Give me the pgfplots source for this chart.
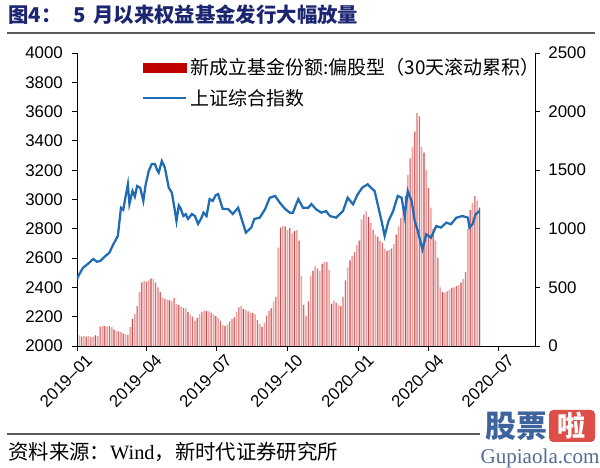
\documentclass[border=0pt]{standalone}
\usepackage{fontspec}
\usepackage{pgfplots}
\usepackage{pgfplotstable}
\pgfplotsset{compat=1.18}
\setmainfont{Liberation Sans}
\newfontfamily\cjk{Noto Sans CJK SC}
\newfontfamily\serif{Liberation Serif}

\definecolor{titleblue}{RGB}{28,38,112}
\definecolor{lineblue}{RGB}{31,108,180}
\definecolor{barpink}{RGB}{236,165,165}
\definecolor{bardark}{RGB}{200,75,75}
\definecolor{legendred}{RGB}{192,0,0}
\definecolor{rulegray}{RGB}{90,90,90}
\definecolor{wmblue}{RGB}{62,100,158}
\definecolor{wmred}{RGB}{222,78,70}

% new equity-fund shares, 30-day rolling sum (day 0 = 2019-01-01)
\pgfplotstableread{
day val
0 210
3 90
6 80
9 85
12 80
15 85
18 75
21 80
24 90
27 85
30 165
33 170
36 170
39 165
42 170
45 160
48 140
51 130
54 125
57 120
60 105
63 100
66 95
69 160
72 230
75 275
78 340
81 460
84 540
87 555
90 550
93 560
96 575
99 570
102 540
105 500
108 460
111 415
114 400
117 395
120 390
123 385
126 410
129 360
132 350
135 335
138 325
141 320
144 290
147 270
150 250
153 215
156 240
159 275
162 290
165 300
168 300
171 295
174 285
177 270
180 255
183 240
186 215
189 180
192 170
195 185
198 210
201 230
204 245
207 290
210 330
213 340
216 315
219 305
222 295
225 285
228 280
231 270
234 220
237 190
240 160
243 200
246 260
249 300
252 320
255 380
258 420
261 840
264 1010
267 1025
270 1020
273 990
276 1005
279 960
282 980
285 990
288 900
291 600
294 350
297 260
300 380
303 600
306 640
309 680
312 660
315 640
318 700
321 720
324 715
327 650
330 360
333 390
336 370
339 350
342 340
345 420
348 560
351 670
354 730
357 770
360 800
363 860
366 900
369 1080
372 1120
375 1150
378 1100
381 1050
384 990
387 950
390 930
393 900
396 880
399 830
402 810
405 820
408 830
411 870
414 950
417 1020
420 1090
423 1180
426 1280
429 1460
432 1600
435 1700
438 1830
441 1990
444 1960
447 1700
450 1650
453 1500
456 1350
459 1180
462 1000
465 900
468 750
471 500
474 460
477 455
480 465
483 480
486 495
489 500
492 510
495 520
498 540
501 570
504 630
507 1000
510 1160
513 1220
516 1280
519 1240
522 1180
}\fundtable

\begin{document}
\begin{tikzpicture}
\path[use as bounding box] (0,0) rectangle (15cm,11.7cm);

\pgfplotsset{
  common/.style={
    at={(1.925cm,3.05cm)}, anchor=south west,
    scale only axis, width=11.45cm, height=7.325cm,
    xmin=0, xmax=594,
    tick align=outside,
    major tick length=0.125cm,
    tick style={black, line width=0.6pt},
    axis line style={black, line width=0.6pt},
    tick label style={font=\fontsize{12}{14}\selectfont},
    /pgf/number format/assume math mode=true,
    /pgf/number format/1000 sep={},
  }
}

% bars on the right axis
\begin{axis}[common,
  axis x line*=bottom, axis y line*=right,
  ymin=0, ymax=2500, ytick={0,500,1000,1500,2000,2500},
  yticklabel style={xshift=2.5pt},
  xtick={0,90,181,273,365,456,547},
  xticklabels={2019–01,2019–04,2019–07,2019–10,2020–01,2020–04,2020–07},
  xticklabel style={rotate=45, anchor=north east, inner sep=0pt, xshift=3pt, yshift=-5pt},
]
\addplot[ybar, bar width=1.15pt, bar shift=0pt, fill=barpink, draw=none] table[x=day, y=val] {\fundtable};
\addplot[ybar, bar width=0.45pt, bar shift=0pt, fill=bardark, draw=none, each nth point=2] table[x=day, y=val] {\fundtable};
\end{axis}

% index line on the left axis
\begin{axis}[common,
  axis x line=none, axis y line*=left,
  ymin=2000, ymax=4000, ytick={2000,2200,...,4000},
  yticklabel style={xshift=-3pt},
  legend style={draw=none, fill=none, at={(0.142,0.995)}, anchor=north west,
    font=\cjk\fontsize{13.5}{15}\selectfont, row sep=4pt, inner sep=0pt,
    nodes={inner sep=2.5pt}},
  legend cell align=left,
]
\addlegendimage{legend image code/.code={\fill[legendred] (0pt,-3.2pt) rectangle (30.5pt,3.2pt);}}
\addlegendentry{新成立基金份额:偏股型（30天滚动累积）}
\addplot[lineblue, line width=1.6pt,
  legend image code/.code={\draw[lineblue, line width=1.3pt] (0pt,0pt) -- (30.5pt,0pt);}]
coordinates {
(0,2457) (4,2500) (8,2535) (14,2560) (21,2594) (26,2575) (30,2580) (36,2610)
(42,2637) (47,2693) (53,2751) (57,2944) (60,2930) (62,2990) (66,3105) (68,2969)
(72,3058) (75,3020) (78,3092) (82,3080) (86,2990) (89,3100) (93,3194) (97,3242)
(101,3242) (104,3200) (106,3183) (110,3262) (114,3217) (119,3080) (123,3047)
(127,2921) (129,2853) (132,2960) (134,2944) (138,2887) (141,2900) (144,2867)
(149,2901) (153,2887) (157,2833) (161,2870) (164,2910) (168,2887) (172,3003)
(176,2990) (180,3030) (183,3037) (189,2935) (196,2935) (202,2901) (209,2944)
(213,2876) (219,2774) (226,2808) (230,2867) (237,2876) (244,2935) (250,3012)
(257,3024) (263,2978) (270,2935) (276,2910) (280,2910) (287,3003) (293,2944)
(300,2944) (304,2969) (310,2933) (317,2910) (323,2921) (328,2887) (336,2876)
(345,2921) (351,3012) (358,2967) (364,3035) (370,3081) (377,3104) (381,3081)
(386,3058) (391,2944) (395,2853) (399,2751) (404,2853) (410,2921) (416,3024)
(421,3012) (425,2887) (429,3058) (434,2990) (438,2853) (442,2785) (448,2660)
(453,2762) (459,2739) (466,2819) (472,2808) (479,2842) (485,2831) (492,2876)
(500,2887) (507,2876) (509,2808) (513,2831) (517,2899) (522,2921)
};
\addlegendentry{上证综合指数}
\end{axis}

% title and rule
\node[anchor=base west, inner sep=0pt, text=titleblue] at (0.2cm,11.125cm)
  {\cjk\bfseries\fontsize{14.5}{17}\selectfont 图4：\hspace{0.6em}5\hspace{0.35em}月以来权益基金发行大幅放量};
\draw[rulegray, line width=1pt] (0.175cm,10.875cm) -- (14.875cm,10.875cm);

% source line
\draw[rulegray, line width=0.9pt] (0.175cm,0.85cm) -- (12cm,0.85cm);
\node[anchor=base west, inner sep=0pt] at (0.2cm,0.2cm)
  {\cjk\fontsize{14.5}{16}\selectfont 资料来源：{\serif Wind}，新时代证券研究所};

% watermark
\node[text=wmblue, inner sep=0pt] at (12.9cm,1.05cm)
  {\cjk\bfseries\fontsize{22}{24}\selectfont 股票};
\node[fill=wmred, text=white, rounded corners=3pt, minimum width=1.15cm,
  minimum height=0.8cm, inner sep=0pt] at (14.3cm,1.05cm)
  {\cjk\bfseries\fontsize{20}{22}\selectfont 啦};
\node[text=wmblue!70!gray, inner sep=0pt] at (13.5cm,0.25cm)
  {\serif\fontsize{15}{17}\selectfont Gupiaola.com};
\end{tikzpicture}
\end{document}
